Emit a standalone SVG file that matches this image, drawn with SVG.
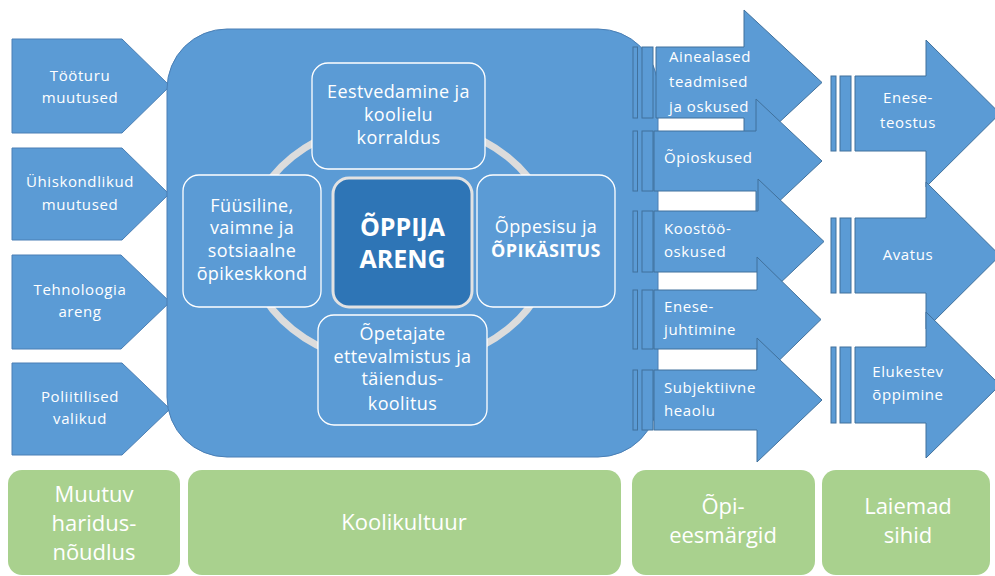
<svg xmlns="http://www.w3.org/2000/svg" width="995" height="576" viewBox="0 0 995 576">
<style>
.blue{fill:#5B9BD5;stroke:#4A7FB5;stroke-width:1}
.bar{fill:#5B9BD5;stroke:#41719C;stroke-width:1}
.inner{fill:#5B9BD5;stroke:#FFFFFF;stroke-width:1.3}
.green{fill:#A9D18E}
text{font-family:"Open Sans","Liberation Sans",sans-serif;fill:#FFFFFF}
.sm{font-size:15px;letter-spacing:0.6px}
.md{font-size:18px;letter-spacing:0.4px}
.big{font-size:22px}
.c{text-anchor:middle}
.b{font-weight:bold}
</style>
<rect width="995" height="576" fill="#FFFFFF"/>

<g id="left-inputs">
<g id="tooturu"><polygon class="blue" points="12,39 122,39 170,86 122,133 12,133"/><text class="sm c" x="80" y="81">Tööturu</text><text class="sm c" x="80" y="103">muutused</text></g>
<g id="uhiskondlikud"><polygon class="blue" points="12,148 122,148 169,194 122,240 12,240"/><text class="sm c" x="80" y="187">Ühiskondlikud</text><text class="sm c" x="80" y="210">muutused</text></g>
<g id="tehnoloogia"><polygon class="blue" points="12,255 121,255 170,302 121,349 12,349"/><text class="sm c" x="80" y="295">Tehnoloogia</text><text class="sm c" x="80" y="317">areng</text></g>
<g id="poliitilised"><polygon class="blue" points="12,363 122,363 170,409 122,455 12,455"/><text class="sm c" x="80" y="402">Poliitilised</text><text class="sm c" x="80" y="424">valikud</text></g>
</g>

<g id="koolikultuur-panel">
<rect class="blue" x="167" y="29" width="491" height="428" rx="60" ry="60"/>
</g>

<g id="connectors">
<ellipse cx="400" cy="243" rx="152" ry="122" fill="none" stroke="#DCDCDC" stroke-width="7"/>
</g>

<g id="eestvedamine"><rect class="inner" x="312" y="63" width="173" height="106" rx="16"/><text class="md c" x="398.5" y="98">Eestvedamine ja</text><text class="md c" x="398.5" y="121">koolielu</text><text class="md c" x="398.5" y="144">korraldus</text></g>
<g id="fuusiline"><rect class="inner" x="183" y="175" width="138" height="132" rx="16"/><text class="md c" x="252" y="212">Füüsiline,</text><text class="md c" x="252" y="234">vaimne ja</text><text class="md c" x="252" y="257">sotsiaalne</text><text class="md c" x="252" y="280">õpikeskkond</text></g>
<g id="oppija"><rect x="333" y="178" width="139" height="129" rx="16" fill="#2E75B6" stroke="#E2E2E2" stroke-width="3"/><text class="b c" x="402.5" y="236" font-size="25">ÕPPIJA</text><text class="b c" x="402.5" y="268" font-size="25">ARENG</text></g>
<g id="oppesisu"><rect class="inner" x="477" y="175" width="138" height="132" rx="16"/><text class="md c" x="546" y="233">Õppesisu  ja</text><text class="md c b" x="546" y="257">ÕPIKÄSITUS</text></g>
<g id="opetajate"><rect class="inner" x="318" y="315" width="169" height="110" rx="16"/><text class="md c" x="402.5" y="340">Õpetajate</text><text class="md c" x="402.5" y="363">ettevalmistus ja</text><text class="md c" x="402.5" y="385">täiendus-</text><text class="md c" x="402.5" y="410">koolitus</text></g>

<g id="opieesmargid-arrows">
<g id="ainealased"><rect class="bar" x="633" y="47" width="4.5" height="71"/><rect class="bar" x="642" y="47" width="11" height="71"/><path class="bar" d="M656,47 L744,47 L744,10 L822,82.5 L744,155 L744,118 L656,118 Z"/><text class="sm" x="669" y="62">Ainealased</text><text class="sm" x="669" y="87">teadmised</text><text class="sm" x="669" y="112">ja oskused</text></g>
<g id="opioskused"><rect class="bar" x="633" y="131" width="4.5" height="60"/><rect class="bar" x="642" y="131" width="11" height="60"/><path class="bar" d="M654,131 L756,131 L756,99 L822,161 L756,223 L756,191 L654,191 Z"/><text class="sm" x="664" y="163">Õpioskused</text></g>
<g id="koostoo"><rect class="bar" x="633" y="211" width="4.5" height="61"/><rect class="bar" x="642" y="211" width="11" height="61"/><path class="bar" d="M654,211 L758,211 L758,179 L824,241.5 L758,304 L758,272 L654,272 Z"/><text class="sm" x="664" y="234">Koostöö-</text><text class="sm" x="664" y="257">oskused</text></g>
<g id="enesejuhtimine"><rect class="bar" x="633" y="290" width="4.5" height="59"/><rect class="bar" x="642" y="290" width="11" height="59"/><path class="bar" d="M654,290 L757,290 L757,257 L821,319.5 L757,382 L757,349 L654,349 Z"/><text class="sm" x="664" y="312">Enese-</text><text class="sm" x="664" y="335">juhtimine</text></g>
<g id="subjektiivne"><rect class="bar" x="633" y="370" width="4.5" height="60"/><rect class="bar" x="642" y="370" width="11" height="60"/><path class="bar" d="M654,370 L757,370 L757,338 L822,400 L757,462 L757,430 L654,430 Z"/><text class="sm" x="664" y="393">Subjektiivne</text><text class="sm" x="664" y="416">heaolu</text></g>
</g>

<g id="laiemad-arrows">
<g id="eneseteostus"><rect class="bar" x="831" y="76" width="5" height="75"/><rect class="bar" x="840" y="76" width="11" height="75"/><path class="bar" d="M855,76 L926,76 L926,40 L1000,113.5 L926,187 L926,151 L855,151 Z"/><text class="sm c" x="908" y="103">Enese-</text><text class="sm c" x="908" y="128">teostus</text></g>
<g id="avatus"><rect class="bar" x="831" y="218" width="5" height="75"/><rect class="bar" x="840" y="218" width="11" height="75"/><path class="bar" d="M855,218 L926,218 L926,182 L1000,255.5 L926,329 L926,293 L855,293 Z"/><text class="sm c" x="908" y="260">Avatus</text></g>
<g id="elukestev"><rect class="bar" x="831" y="347" width="5" height="76"/><rect class="bar" x="840" y="347" width="11" height="76"/><path class="bar" d="M855,347 L926,347 L926,312 L1000,385 L926,458 L926,423 L855,423 Z"/><text class="sm c" x="908" y="377">Elukestev</text><text class="sm c" x="908" y="400">õppimine</text></g>
</g>

<g id="labels">
<g id="muutuv"><rect class="green" x="8" y="470" width="172" height="105" rx="14"/><text class="big c" x="94" y="502">Muutuv</text><text class="big c" x="94" y="531">haridus-</text><text class="big c" x="94" y="560">nõudlus</text></g>
<g id="koolikultuur"><rect class="green" x="188" y="470" width="433" height="105" rx="14"/><text class="big c" x="404" y="530">Koolikultuur</text></g>
<g id="opi"><rect class="green" x="632" y="470" width="183" height="105" rx="14"/><text class="big c" x="723" y="514">Õpi-</text><text class="big c" x="723" y="543">eesmärgid</text></g>
<g id="laiemad"><rect class="green" x="822" y="470" width="168" height="105" rx="14"/><text class="big c" x="908" y="514">Laiemad</text><text class="big c" x="908" y="543">sihid</text></g>
</g>
</svg>
